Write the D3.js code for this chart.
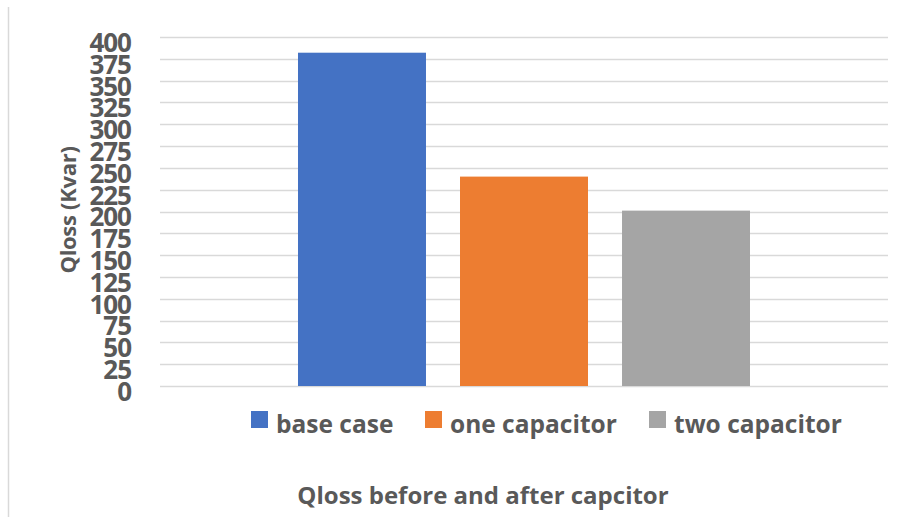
<!DOCTYPE html>
<html>
<head>
<meta charset="utf-8">
<script src="https://cdn.jsdelivr.net/npm/d3@7"></script>
<style>
  html, body { margin: 0; padding: 0; background: #fff; }
  svg { display: block; font-family: "Open Sans", "Liberation Sans", sans-serif; }
</style>
</head>
<body>
<svg id="chart" width="906" height="517"></svg>
<script>
// Reactive power loss for each compensation case
const categories = ["Qloss"];
const seriesNames = ["base case", "one capacitor", "two capacitor"];
const seriesValues = [382, 240, 201];
const seriesColors = ["#4472C4", "#ED7D31", "#A5A5A5"];
const yTicks = [0, 25, 50, 75, 100, 125, 150, 175, 200, 225, 250, 275, 300, 325, 350, 375, 400];

const svg = d3.select("#chart");
const textColor = "#595959";

const plot = { left: 160, right: 888, top: 37, bottom: 386 };

const y = d3.scaleLinear().domain([0, 400]).range([plot.bottom, plot.top]);

const x0 = d3.scaleBand()
  .domain(categories)
  .range([plot.left, plot.right])
  .paddingInner(0)
  .paddingOuter(0.3053);

const x1 = d3.scaleBand()
  .domain(seriesNames)
  .range([0, x0.bandwidth()])
  .paddingInner(0.21)
  .paddingOuter(0);

// chart area left border
svg.append("line")
  .attr("x1", 8.5).attr("x2", 8.5)
  .attr("y1", 7).attr("y2", 517)
  .attr("stroke", "#d9d9d9").attr("stroke-width", 1.5);

// gridlines
svg.append("g")
  .selectAll("line")
  .data(yTicks)
  .join("line")
  .attr("x1", plot.left).attr("x2", plot.right)
  .attr("y1", d => Math.round(y(d)) + 0.5)
  .attr("y2", d => Math.round(y(d)) + 0.5)
  .attr("stroke", "#d9d9d9").attr("stroke-width", 1.5);

// y axis tick labels, sitting slightly below their gridlines
const yAxis = d3.axisLeft(y).tickValues(yTicks).tickSize(0).tickPadding(0);
const yg = svg.append("g")
  .attr("transform", `translate(131,5)`)
  .call(yAxis);
yg.select(".domain").remove();
yg.selectAll("text")
  .attr("fill", textColor)
  .attr("font-size", 26)
  .attr("font-weight", "bold")
  .attr("font-family", "'Open Sans', sans-serif")
  .attr("letter-spacing", -1)
  .attr("dy", "0.36em");

// bars
const rows = seriesNames.map((name, i) => ({ cat: categories[0], name, value: seriesValues[i], color: seriesColors[i] }));
svg.append("g")
  .selectAll("rect")
  .data(rows)
  .join("rect")
  .attr("x", d => x0(d.cat) + x1(d.name))
  .attr("width", x1.bandwidth())
  .attr("y", d => y(d.value))
  .attr("height", d => y(0) - y(d.value))
  .attr("fill", d => d.color);

// y axis title
svg.append("text")
  .attr("transform", "translate(76,210) rotate(-90)")
  .attr("text-anchor", "middle")
  .attr("fill", textColor)
  .attr("font-size", 22)
  .attr("font-weight", "bold")
  .attr("letter-spacing", -0.3)
  .text("Qloss (Kvar)");

// legend
const legendX = [251, 425, 649];
const legend = svg.append("g")
  .selectAll("g")
  .data(rows)
  .join("g")
  .attr("transform", (d, i) => `translate(${legendX[i]},411)`);
legend.append("rect")
  .attr("width", 17).attr("height", 17)
  .attr("fill", d => d.color);
legend.append("text")
  .attr("x", 25).attr("y", 22)
  .attr("fill", textColor)
  .attr("font-size", 24.5)
  .attr("font-weight", "bold")
  .text(d => d.name);

// category title
svg.append("text")
  .attr("x", 483).attr("y", 504)
  .attr("text-anchor", "middle")
  .attr("fill", textColor)
  .attr("font-size", 24)
  .attr("font-weight", "bold")
  .text("Qloss before and after capcitor");
</script>
</body>
</html>
